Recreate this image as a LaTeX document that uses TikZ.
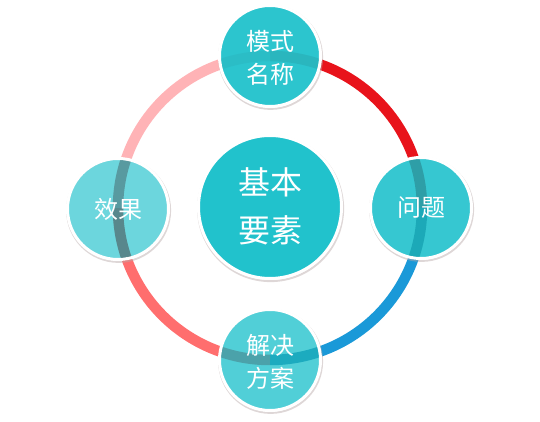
\documentclass[tikz,border=0pt]{standalone}
\usepackage{fontspec}
\newfontfamily\cjk{Noto Sans CJK SC}
\usetikzlibrary{calc}
\definecolor{tealA}{HTML}{21C2CC}
\definecolor{ringRed}{HTML}{E8131B}
\definecolor{ringBlue}{HTML}{1A99D8}
\definecolor{ringSalmon}{HTML}{FF6E6E}
\definecolor{ringPink}{HTML}{FFB3B6}
\definecolor{shade}{HTML}{B8A8A8}
\tikzset{
  ringarc/.style={line width=10.5pt},
  disc/.style={circle, draw=white, line width=3pt, fill=tealA, minimum size=101pt, inner sep=0pt},
  bigdisc/.style={circle, draw=white, line width=3pt, fill=tealA, minimum size=143pt, inner sep=0pt},
  halo/.style={draw=shade, draw opacity=0.45, line width=2pt},
  itemtext/.style={text=white, align=center, inner sep=0pt, font=\cjk\fontsize{24}{33}\selectfont},
  bigtext/.style={text=white, align=center, inner sep=0pt, font=\cjk\fontsize{32}{48}\selectfont}
}
\begin{document}
\begin{tikzpicture}[x=1pt,y=1pt]
\useasboundingbox[fill=white] (0,0) rectangle (540,422);
\coordinate (O) at (270,214);
% ring
\draw[ringarc, ringRed]    ($(O)+(90:152)$) arc (90:0:152);
\draw[ringarc, ringBlue]   ($(O)+(0:152)$) arc (0:-90:152);
\draw[ringarc, ringSalmon] ($(O)+(-90:152)$) arc (-90:-180:152);
\draw[ringarc, ringPink]   ($(O)+(180:152)$) arc (180:90:152);
% positions
\coordinate (pT) at (270,366);
\coordinate (pR) at (421,214);
\coordinate (pB) at (270,62);
\coordinate (pL) at (118,213);
\coordinate (pC) at (270,215);
% soft shadows
\foreach \p in {pT,pR,pB,pL}{
  \draw[halo] ($(\p)+(0.6,-1.4)$) circle (51.5pt);
}
\draw[halo] ($(pC)+(0.6,-1.6)$) circle (72.5pt);
% discs
\node[disc, fill opacity=0.95] (dT) at (pT) {};
\node[disc, fill opacity=0.9]  (dR) at (pR) {};
\node[disc, fill opacity=0.78] (dB) at (pB) {};
\node[disc, fill opacity=0.66] (dL) at (pL) {};
\node[bigdisc] (dC) at (pC) {};
% darker stripes where ring passes under
\foreach \d/\o in {dT/0.015,dR/0.1,dB/0.07,dL/0.18}{
  \begin{scope}
    \clip (\d.center) circle (49pt);
    \draw[line width=10.5pt, black, opacity=\o] (O) circle (152pt);
  \end{scope}
}
% texts
\node[itemtext] (tT) at ($(dT.center)+(0,-2)$) {模式\\名称};
\node[itemtext] (tR) at (dR.center) {问题};
\node[itemtext] (tB) at ($(dB.center)+(0,-2)$) {解决\\方案};
\node[itemtext] (tL) at (dL.center) {效果};
\node[bigtext]  (tC) at ($(dC.center)+(0,1)$) {基本\\要素};
\end{tikzpicture}
\end{document}
